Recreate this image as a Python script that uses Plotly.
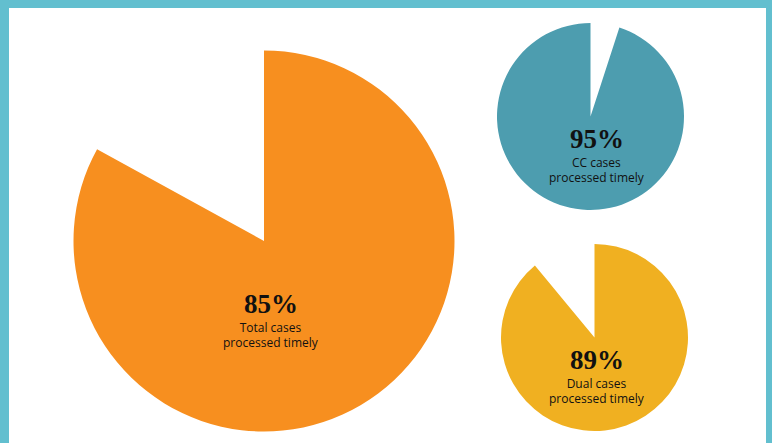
import plotly.graph_objects as go

W, H = 772, 443

# Data
labels = ["Total cases", "CC cases", "Dual cases"]
headline = ["85%", "95%", "89%"]
drawn_share = [83, 95, 89]          # share of circle filled, as drawn
gap_first = [False, True, False]    # whether the empty wedge comes first (clockwise from 12 o'clock)
colors = ["#F78F1F", "#4D9DAF", "#F0B021"]

# layout (pixel boxes: x0, x1, ytop, ybottom) and text centres
boxes = [(73.5, 454.5, 50.5, 431.5), (497, 684, 23, 210), (501, 688, 244, 431)]
text_pos = [(271, 304, 335), (597, 139, 170), (597, 360, 391)]

fig = go.Figure()
for i in range(3):
    fill = drawn_share[i]
    gap = 100 - fill
    if gap_first[i]:
        vals = [gap, fill]
        cols = ["rgba(0,0,0,0)", colors[i]]
    else:
        vals = [fill, gap]
        cols = [colors[i], "rgba(0,0,0,0)"]
    x0, x1, yt, yb = boxes[i]
    fig.add_trace(go.Pie(
        values=vals, sort=False, direction="clockwise", rotation=0,
        marker=dict(colors=cols, line=dict(width=0)),
        textinfo="none", hoverinfo="skip", showlegend=False,
        domain=dict(x=[x0 / W, x1 / W], y=[1 - yb / H, 1 - yt / H]),
    ))
    cx, yh, yl = text_pos[i]
    fig.add_annotation(x=cx / W, y=1 - yh / H, xref="paper", yref="paper",
                       text="<b>" + headline[i] + "</b>", showarrow=False,
                       xanchor="center", yanchor="middle", height=22,
                       font=dict(family="Liberation Serif", size=27, color="#111111"))
    fig.add_annotation(x=cx / W, y=1 - yl / H, xref="paper", yref="paper",
                       text=labels[i] + "<br>processed timely", showarrow=False,
                       xanchor="center", yanchor="middle", align="center", height=30,
                       font=dict(family="Open Sans", size=12, color="#111111"))

fig.update_layout(
    width=W, height=H, margin=dict(l=0, r=0, t=0, b=0),
    paper_bgcolor="#62BFCF", plot_bgcolor="white",
    shapes=[dict(type="rect", xref="paper", yref="paper",
                 x0=9 / W, x1=766 / W, y0=-0.05, y1=1 - 8 / H,
                 fillcolor="white", line=dict(width=0), layer="below")],
)
fig.write_html("out.html")
